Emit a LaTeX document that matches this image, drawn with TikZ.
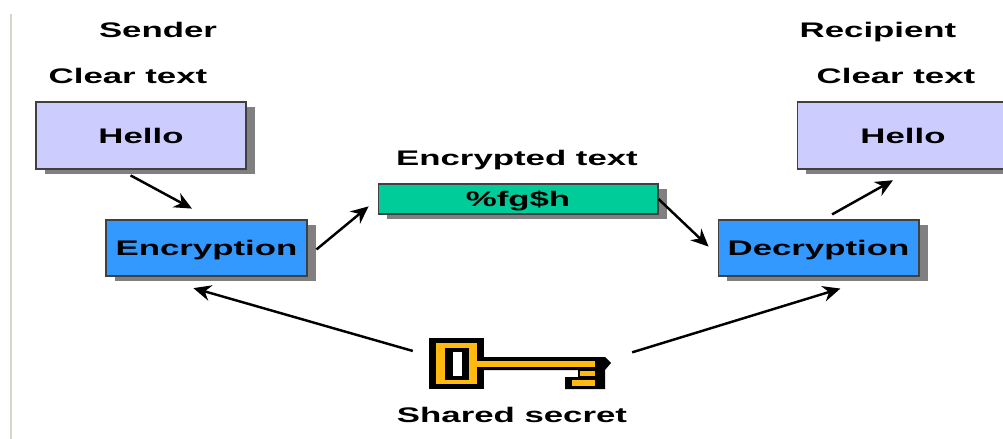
\documentclass[tikz,border=0pt]{standalone}
\usepackage{fontspec}
\setmainfont[FakeStretch=1.65]{Liberation Sans}
\usetikzlibrary{arrows.meta,shadows}
\definecolor{clearfill}{HTML}{CCCCFF}
\definecolor{cryptfill}{HTML}{3399FF}
\definecolor{cipherfill}{HTML}{00CC99}
\definecolor{keygold}{HTML}{FFB90F}
\definecolor{shade}{HTML}{808080}
\definecolor{edgeline}{HTML}{D8D4CC}
\begin{document}
\begin{tikzpicture}[x=0.02cm,y=-0.02cm,inner sep=0pt]
  \tikzstyle{t}=[font=\fontsize{12}{14}\selectfont\bfseries,text height=8.6pt,text depth=0pt]
  \tikzstyle{b}=[t,rectangle,draw=black!75,line width=0.6pt,drop shadow={shadow xshift=5pt,shadow yshift=-3pt,fill=shade,opacity=1}]
  \useasboundingbox(0,0)rectangle(1003,439);
  \fill[white](0,0)rectangle(1003,439);
  \draw[edgeline,line width=1pt](11,14)--(11,439);
  % labels
  \node[t](sender)at(158,30){Sender};
  \node[t](clearl)at(128,76){Clear text};
  \node[t](recipient)at(878,30){Recipient};
  \node[t](clearr)at(896,76){Clear text};
  \node[t](enctext)at(517,158){Encrypted text};
  \node[t](shared)at(512,415){Shared secret};
  % boxes
  \node[b,fill=clearfill,minimum width=4.2cm,minimum height=1.34cm](helloa)at(141,135.5){Hello};
  \node[b,fill=clearfill,minimum width=4.24cm,minimum height=1.34cm](hellob)at(903,135.5){Hello};
  \node[b,fill=cryptfill,minimum width=4.02cm,minimum height=1.12cm](encr)at(206.5,248){Encryption};
  \node[b,fill=cryptfill,minimum width=4.02cm,minimum height=1.12cm](decr)at(818.5,248){Decryption};
  \node[b,fill=cipherfill,minimum width=5.6cm,minimum height=0.6cm](cipher)at(518,199){\%fg\$h};
  % key
  \node[minimum width=3.64cm,minimum height=1.02cm](key)at(520,363.5){};
  \fill[black](429,338)rectangle(484,389);
  \fill[black](484,357)--(605,357)--(611,363)--(605,370)--(605,389)--(565,389)--(565,377)--(578,377)--(578,370)--(484,370)--cycle;
  \fill[keygold](436,343)rectangle(477,384);
  \fill[keygold](477,361)rectangle(595,367);
  \fill[keygold](580,371)rectangle(595,376);
  \fill[keygold](572,380)rectangle(595,386);
  \fill[black](445,348)rectangle(469,380);
  \fill[white](453,352)rectangle(462,376);
  % connectors
  \tikzstyle{e}=[-{Stealth[length=10pt,width=9pt]},draw=black,line width=1.4pt]
  \foreach\o/\d/\s/\f in{helloa.-122/encr.79/7/13,encr.-5.4/cipher.180/6.6/6.6,cipher.east/decr.184.8/0/7,decr.81/hellob.-75/5.9/12.5,key.175.7/encr.-152/9.4/24,key.3.1/decr.-25.6/12.4/23.4}{\draw[e,shorten <=\s pt,shorten >=\f pt](\o)--(\d);}
\end{tikzpicture}
\end{document}
